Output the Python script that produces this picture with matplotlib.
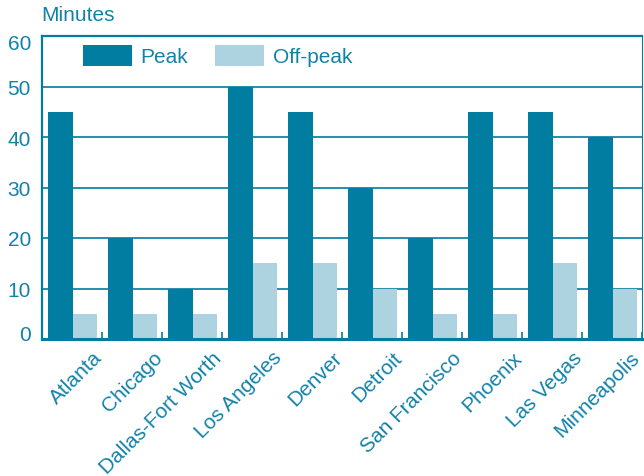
import matplotlib
matplotlib.use("Agg")
import matplotlib.pyplot as plt
import matplotlib.transforms as mtransforms
import numpy as np

# ================== DATA ==================
cities = ["Atlanta", "Chicago", "Dallas-Fort Worth", "Los Angeles", "Denver",
          "Detroit", "San Francisco", "Phoenix", "Las Vegas", "Minneapolis"]
peak = [45, 20, 10, 50, 45, 30, 20, 45, 45, 40]
off_peak = [5, 5, 5, 15, 15, 10, 5, 5, 15, 10]

dark = "#007da0"
light = "#acd3df"
txt = "#1282a8"

plt.rcParams["font.family"] = ["Liberation Sans", "DejaVu Sans"]

fig = plt.figure(figsize=(6.44, 4.77), dpi=100)
ax = fig.add_axes([42 / 644, 1 - 340 / 477, 600 / 644, 303 / 477])

x = np.arange(len(cities))
ax.bar(x + 0.10, peak, width=0.41, align="edge", color=dark, label="Peak", zorder=2)
ax.bar(x + 0.51, off_peak, width=0.40, align="edge", color=light, label="Off-peak", zorder=2)

ax.set_xlim(0, len(cities))
ax.set_ylim(0, 60)
ax.set_yticks(range(0, 61, 10))
for v in range(10, 61, 10):
    ax.axhline(v, color=dark, lw=1.2, zorder=1)

# ticks sit on the group boundaries
ax.set_xticks(x + 1)
ax.set_xticklabels(cities, rotation=45, ha="right", va="center",
                   rotation_mode="anchor", fontsize=15, color=txt)
ax.tick_params(axis="x", direction="in", length=5, width=1.2, color=dark, pad=11)
ax.tick_params(axis="y", length=0, labelsize=15, labelcolor=txt, pad=8)

# small nudges so labels sit where the original has them
xlabs = ax.get_xticklabels()
for i, lab in enumerate(xlabs):
    dx = -6 if i == len(xlabs) - 1 else -3   # keep the last one inside the figure
    lab.set_transform(lab.get_transform() +
                      mtransforms.ScaledTranslation(dx / 100, 0, fig.dpi_scale_trans))
ylabs = ax.get_yticklabels()
ylabs[0].set_transform(ylabs[0].get_transform() +
                       mtransforms.ScaledTranslation(0, 6 / 100, fig.dpi_scale_trans))
ylabs[-1].set_transform(ylabs[-1].get_transform() +
                        mtransforms.ScaledTranslation(0, -5 / 100, fig.dpi_scale_trans))

for side, lw in [("left", 1.6), ("bottom", 2.2), ("top", 1.6), ("right", 0.8)]:
    ax.spines[side].set_color(dark)
    ax.spines[side].set_linewidth(lw)

ax.legend(loc="upper left", bbox_to_anchor=(0.068, 0.97), ncol=2, frameon=False,
          fontsize=15, labelcolor=txt, handlelength=2.36, handleheight=1.15,
          handletextpad=0.4, columnspacing=1.3, borderpad=0, borderaxespad=0)

fig.text(41 / 644, 1 - 6 / 477, "Minutes", fontsize=15, color=txt, va="top")

fig.savefig("out.png", dpi=100)
